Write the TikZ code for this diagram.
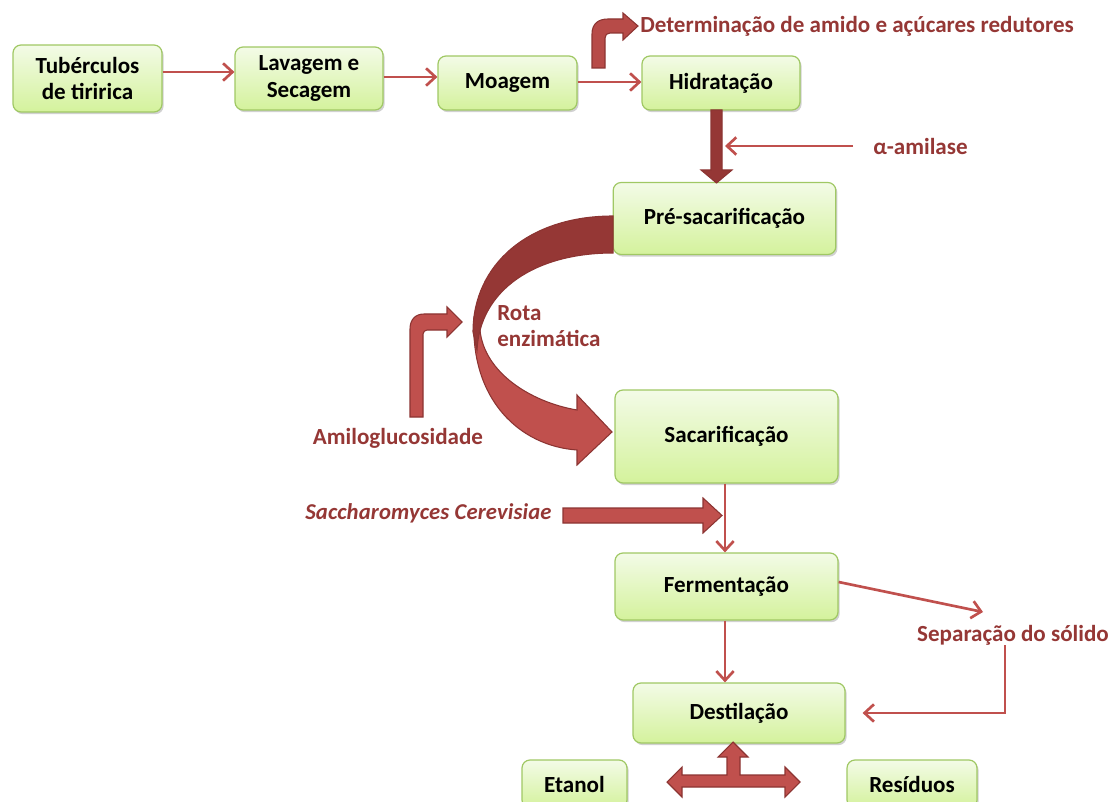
\documentclass[tikz,border=0pt]{standalone}
\usepackage{fontspec}
\setmainfont{Carlito}
\newfontfamily\sacfont[LetterSpace=0.6]{Carlito}
\usetikzlibrary{arrows.meta,shadows,calc}
\definecolor{arrred}{RGB}{192,80,77}
\definecolor{darkred}{RGB}{149,55,53}
\definecolor{edgered}{RGB}{140,52,50}
\definecolor{txtred}{RGB}{149,55,53}
\definecolor{boxtop}{RGB}{243,251,231}
\definecolor{boxbot}{RGB}{212,242,156}
\definecolor{boxedge}{RGB}{160,200,100}
\begin{document}
\begin{tikzpicture}[x=0.75pt,y=-0.75pt,
  procbox/.style={rectangle, rounded corners=6pt, draw=boxedge, line width=0.9pt,
    top color=boxtop, bottom color=boxbot, inner sep=0pt, align=center,
    font=\fontsize{17.3}{20}\selectfont\bfseries,
    drop shadow={shadow xshift=1.2pt, shadow yshift=-1.6pt, opacity=0.3, fill=black!60}},
  thinarr/.style={draw=arrred, line width=2pt,
    -{Straight Barb[length=7pt,width=13pt,line width=2pt]}},
  redlbl/.style={text=txtred, inner sep=0pt, font=\fontsize{17.3}{20}\selectfont\bfseries},
  blockarr/.style={fill=arrred, draw=edgered, line width=0.8pt, line join=miter},
  darkarr/.style={fill=darkred, draw=edgered, line width=0.8pt, line join=miter}]
\useasboundingbox (0,0) rectangle (1110,802);

% process boxes
\node[procbox, minimum width=111.75pt, minimum height=50.25pt] (tub) at (87.5,78.5) {Tubérculos\\de tiririca};
\node[procbox, minimum width=111pt, minimum height=47.25pt] (lav) at (309,78.5) {Lavagem e\\Secagem};
\node[procbox, minimum width=104.25pt, minimum height=40.5pt] (moa) at (507.5,83) {Moagem};
\node[procbox, minimum width=118.5pt, minimum height=40.5pt] (hid) at (721,83) {Hidratação};
\node[procbox, minimum width=167pt, minimum height=54pt] (pre) at (724.5,218.5) {Pré-sacarificação};
\node[procbox, minimum width=167.25pt, minimum height=69.75pt] (sac) at (726.5,436.5) {Sacarificação};
\node[procbox, minimum width=167.25pt, minimum height=50.25pt] (fer) at (726.5,586.5) {Fermentação};
\node[procbox, minimum width=159pt, minimum height=45pt] (des) at (739,713) {Destilação};
\node[procbox, minimum width=78.75pt, minimum height=36pt] (eta) at (574.5,784) {Etanol};
\node[procbox, minimum width=97.5pt, minimum height=36pt] (res) at (912,784) {Resíduos};

% labels
\node[redlbl, anchor=west] (det) at (640,26) {Determinação de amido e açúcares redutores};
\node[redlbl, anchor=west] (alfa) at (873,146) {α-amilase};
\node[redlbl, anchor=west, align=left] (rota) at (497,326) {Rota\\enzimática};
\node[redlbl] (amilo) at (398,438) {Amiloglucosidade};
\node[redlbl, anchor=west, font=\fontsize{17}{20}\selectfont\sacfont\bfseries\itshape] (sacch) at (305,513) {Saccharomyces Cerevisiae};
\node[redlbl] (sep) at (1013,635) {Separação do sólido};

% thin connectors
\draw[thinarr] (tub.east |- 0,72) -- (lav.west |- 0,72);
\draw[thinarr] (lav.east |- 0,77) -- (moa.west |- 0,77);
\draw[thinarr] (moa.east |- 0,82) -- (hid.west |- 0,82);
\coordinate (alfatip) at (725,146);
\draw[thinarr] ($(alfa.west)+(-20,0)$) -- (alfatip);
\draw[thinarr] (sac.south -| 725,0) -- (fer.north -| 725,0);
\draw[thinarr] (fer.south -| 725,0) -- (des.north -| 725,0);
\coordinate (sepin) at (983,612);
\draw[thinarr] (fer.east |- 0,582) -- (sepin);
\draw[thinarr] (sep.south -| 1005,0) -- (1005,713) -- ($(des.east |- 0,713)+(17,0)$);

% bent arrow to Determinacao
\fill[fill=arrred!80!darkred, draw=edgered, line width=0.8pt, line join=miter]
  (592,68) -- (592,34) .. controls (592,24) and (598,19) .. (608,19)
  -- (623,19) -- (623,13) -- (638,26) -- (623,40) -- (623,33)
  -- (610,33) .. controls (607,33) and (605,35) .. (605,38) -- (605,68) -- cycle;

% thick arrow Hidratacao -> Pre-sacarificacao
\fill[darkarr] (711,110) -- (722,110) -- (722,170) -- (732,170) -- (716.5,183)
  -- (701,170) -- (711,170) -- cycle;

% curved arrow (Rota enzimatica)
\fill[blockarr] (474,318) .. controls (470,400) and (520,446) .. (577,450)
  -- (577,465) -- (612,432) -- (577,395) -- (577,410)
  .. controls (530,402) and (484,372) .. (480,330) -- cycle;
\fill[darkarr] (613,216) .. controls (528,216) and (473,265) .. (473,332)
  -- (477,350) .. controls (480,290) and (535,253) .. (613,253) -- cycle;

% Amiloglucosidade bent arrow
\fill[blockarr] (410,417) -- (410,329) .. controls (410,320) and (415,314) .. (424,314)
  -- (447,314) -- (447,307) -- (462,322) -- (447,337) -- (447,330)
  -- (427,330) .. controls (425,330) and (423,332) .. (423,334) -- (423,417) -- cycle;

% Saccharomyces arrow
\fill[blockarr] (563,508) -- (703,508) -- (703,498) -- (722,515.5) -- (703,533)
  -- (703,523) -- (563,523) -- cycle;

% T double arrow below Destilacao
\fill[blockarr] (733,742) -- (748,757) -- (740,757) -- (740,775) -- (785,775)
  -- (785,767) -- (800,782) -- (785,797) -- (785,787) -- (682,787) -- (682,797)
  -- (667,782) -- (682,767) -- (682,775) -- (727,775) -- (727,757) -- (718,757) -- cycle;
\end{tikzpicture}
\end{document}
